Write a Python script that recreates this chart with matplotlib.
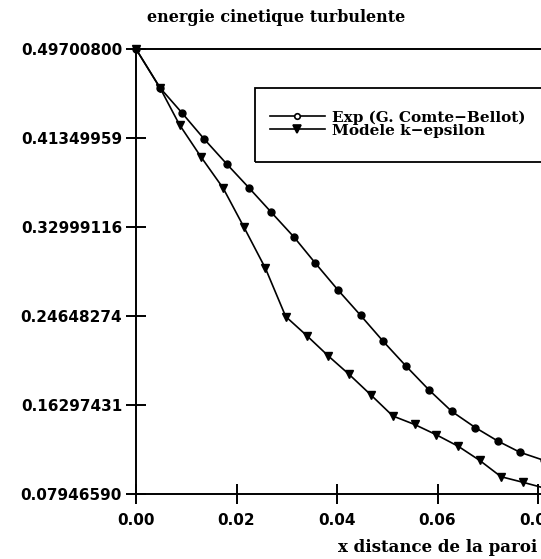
import matplotlib
matplotlib.use("Agg")
import matplotlib.pyplot as plt
from matplotlib.lines import Line2D
from matplotlib.patches import Rectangle

# ---------------- data ----------------
title = "energie cinetique turbulente"
xlabel = "x distance de la paroi"
legend_labels = ["Exp (G. Comte\u2212Bellot)", "Modele k\u2212epsilon"]

exp_x = [0.0, 0.00476, 0.00916, 0.01357, 0.01808, 0.02253, 0.02688, 0.03145,
         0.0357, 0.04017, 0.04471, 0.04914, 0.05373, 0.05833, 0.06283, 0.06752,
         0.07202, 0.07642, 0.0812]
exp_y = [0.4970, 0.4607, 0.4370, 0.4125, 0.3890, 0.3665, 0.3440, 0.3205,
         0.2960, 0.2710, 0.2470, 0.2230, 0.1995, 0.1770, 0.1570, 0.1418,
         0.1291, 0.1186, 0.1110]

mod_x = [0.0, 0.00476, 0.00866, 0.01294, 0.01735, 0.02145, 0.02577, 0.02979,
         0.03407, 0.03827, 0.04241, 0.04686, 0.0511, 0.05544, 0.05978, 0.06414,
         0.06842, 0.07264, 0.07697, 0.0813]
mod_y = [0.4970, 0.4607, 0.4259, 0.3957, 0.3664, 0.3301, 0.2911, 0.2460,
         0.2277, 0.2090, 0.1917, 0.1719, 0.1527, 0.1447, 0.1350, 0.1242,
         0.1109, 0.0957, 0.0905, 0.0850]

ytick_vals = [0.49700800, 0.41349959, 0.32999116, 0.24648274, 0.16297431, 0.07946590]
ytick_labels = ["0.49700800", "0.41349959", "0.32999116", "0.24648274",
                "0.16297431", "0.07946590"]
xtick_vals = [0.00, 0.02, 0.04, 0.06, 0.08]
xtick_labels = ["0.00", "0.02", "0.04", "0.06", "0.08"]

# ---------------- figure ----------------
W, H, DPI = 541, 559, 100
fig = plt.figure(figsize=(W / DPI, H / DPI), dpi=DPI)
fig.patch.set_facecolor("white")

def fx(px):
    return px / W

def fy(py):
    return 1 - py / H

ax_left, ax_top, ax_bottom = 136, 49, 494
ax_w = 502.5
ax = fig.add_axes([fx(ax_left), fy(ax_bottom), ax_w / W, (ax_bottom - ax_top) / H])
ax.set_xlim(0, 0.1)
ax.set_ylim(ytick_vals[-1], ytick_vals[0])

lw_axis = 1.4
for s in ax.spines.values():
    s.set_linewidth(lw_axis)
    s.set_color("black")

ax.plot(exp_x, exp_y, color="black", lw=1.2, marker="o", ms=5,
        mfc="black", mec="black", clip_on=False, zorder=3)
ax.plot(mod_x, mod_y, color="black", lw=1.2, marker="v", ms=6,
        mfc="black", mec="black", clip_on=False, zorder=3)

tick_font = dict(family="DejaVu Sans", weight="bold", size=11)
ax.set_xticks(xtick_vals)
ax.set_xticklabels(xtick_labels, fontdict=tick_font)
ax.set_yticks(ytick_vals)
ax.set_yticklabels(ytick_labels, fontdict=tick_font)
ax.tick_params(axis="both", direction="inout", length=14, width=lw_axis,
               colors="black", top=False, right=False)
ax.tick_params(axis="x", pad=7)
ax.tick_params(axis="y", pad=3)

serif_bold = dict(family="DejaVu Serif", weight="bold")

fig.text(fx(276), fy(18), title, ha="center", va="center", size=11.5, **serif_bold)
fig.text(fx(338), fy(547), xlabel, ha="left", va="center", size=12, **serif_bold)

# ---------------- legend ----------------
fig.add_artist(Rectangle((fx(255), fy(162)), (548 - 255) / W, (162 - 88) / H,
                         transform=fig.transFigure, fill=False,
                         edgecolor="black", lw=1.3))
leg_rows = [
    (116, "o", 4, "white", legend_labels[0]),
    (129, "v", 6, "black", legend_labels[1]),
]
for y, mk, ms, mfc, lab in leg_rows:
    fig.add_artist(Line2D([fx(270), fx(325)], [fy(y), fy(y)],
                          transform=fig.transFigure, color="black", lw=1.2))
    fig.add_artist(Line2D([fx(297)], [fy(y)], transform=fig.transFigure,
                          marker=mk, ms=ms, mfc=mfc, mec="black", mew=1.2,
                          linestyle="none"))
    fig.text(fx(332), fy(y + 2), lab, ha="left", va="center", size=11,
             **serif_bold)

fig.savefig("out.png", dpi=DPI, facecolor="white")
